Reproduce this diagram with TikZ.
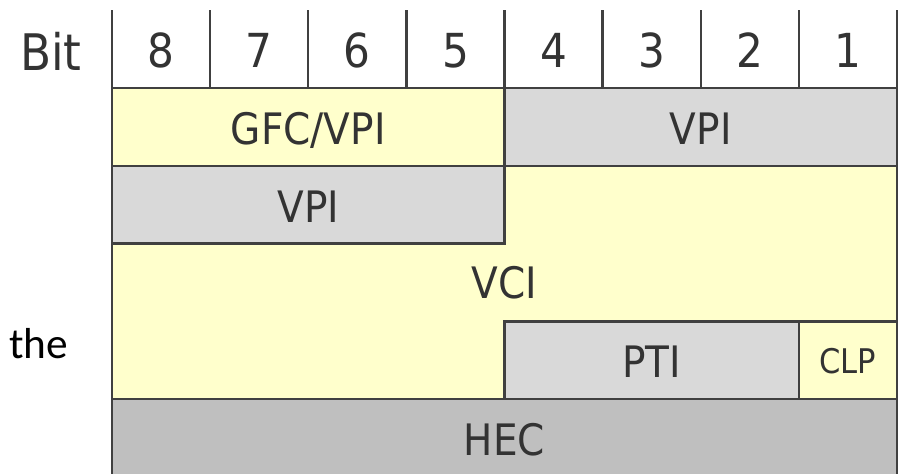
\documentclass[tikz,border=0pt]{standalone}
\usepackage{fontspec}
\setmainfont{DejaVu Sans Condensed}
\newfontfamily\thefont{Carlito}
\usetikzlibrary{positioning,calc}
\definecolor{cellyellow}{HTML}{FFFFCC}
\definecolor{celllight}{HTML}{D9D9D9}
\definecolor{celldark}{HTML}{BFBFBF}
\definecolor{rulegray}{HTML}{404040}
\definecolor{textgray}{HTML}{333333}
\def\CellW{98.125}
\def\CellH{77.8}
\tikzset{
	field/.style={draw=rulegray,line width=2.1pt},
	fieldtext/.style={inner sep=0pt,anchor=base,text=textgray,font=\fontsize{37}{44}\selectfont},
	bittext/.style={inner sep=0pt,anchor=base,text=textgray,font=\fontsize{40}{48}\selectfont},
}

\begin{document}
\begin{tikzpicture}[x=0.03cm,y=-0.03cm]
	\useasboundingbox (0,0) rectangle (899,473);
	% corners of the header cell grid
	\coordinate (tl) at (112,88);
	\coordinate (tr) at ($(tl)+(8*\CellW,0)$);
	\coordinate (mid) at ($(tl)+(4*\CellW,0)$);
	\coordinate (clpx) at ($(tl)+(7*\CellW,0)$);
	% 
	\coordinate (r1) at ($(tl)+(0,\CellH)$);
	\coordinate (r2) at ($(tl)+(0,2*\CellH)$);
	\coordinate (r3) at ($(tl)+(0,3*\CellH)$);
	\coordinate (r4) at ($(tl)+(0,4*\CellH)$);
	\coordinate (r5) at ($(tl)+(0,5*\CellH)$);
	% fields
	\fill[cellyellow] (mid |- r1) rectangle (tr |- r3);
	\fill[cellyellow] (r2) rectangle (mid |- r4);
	\draw[field,fill=cellyellow] (tl) rectangle (mid |- r1);
	\draw[field,fill=celllight] (mid) rectangle (tr |- r1);
	\draw[field,fill=celllight] (r1) rectangle (mid |- r2);
	\draw[field] (mid |- r1) -- (tr |- r1) -- (tr |- r3) -- (clpx |- r3);
	\draw[field] (r2) -- (r4);
	\draw[field,fill=celllight] (mid |- r3) rectangle (clpx |- r4);
	\draw[field,fill=cellyellow] (clpx |- r3) rectangle (tr |- r4);
	\draw[field,fill=celldark] (r4) rectangle (tr |- r5);
	% header
	\foreach \i in {0,...,8}
		\draw[field] ($(tl)+(\i*\CellW,0)$) -- ($(tl)+(\i*\CellW,-78)$);
	\foreach \i in {0,...,7}{
		\pgfmathtruncatemacro{\bitno}{8-\i}
		\node[bittext] (b\bitno) at ($(tl)+(\i*\CellW+0.5*\CellW,-21)$) {\bitno};
	}
	\node[inner sep=0pt,anchor=base,text=textgray,font=\fontsize{43}{50}\selectfont] (bit) at (51,70) {Bit};
	% labels
	\node[fieldtext] (gfc) at ($(tl)!0.5!(mid)+(0,56)$) {GFC/VPI};
	\node[fieldtext] (vpia) at ($(mid)!0.5!(tr)+(0,56)$) {VPI};
	\node[fieldtext] (vpib) at ($(tl)!0.5!(mid)+(0,134)$) {VPI};
	\node[fieldtext] (vci) at ($(mid)+(0,210)$) {VCI};
	\node[fieldtext] (pti) at ($(mid)!0.5!(clpx)+(0,289)$) {PTI};
	\node[fieldtext,font=\fontsize{29}{34}\selectfont] (clp) at ($(clpx)!0.5!(tr)+(0,285)$) {CLP};
	\node[fieldtext] (hec) at ($(mid)+(0,367)$) {HEC};
	\node[inner sep=0pt,anchor=base,font=\thefont\fontsize{37}{44}\selectfont] (the) at (38.5,358) {the};
\end{tikzpicture}
\end{document}
